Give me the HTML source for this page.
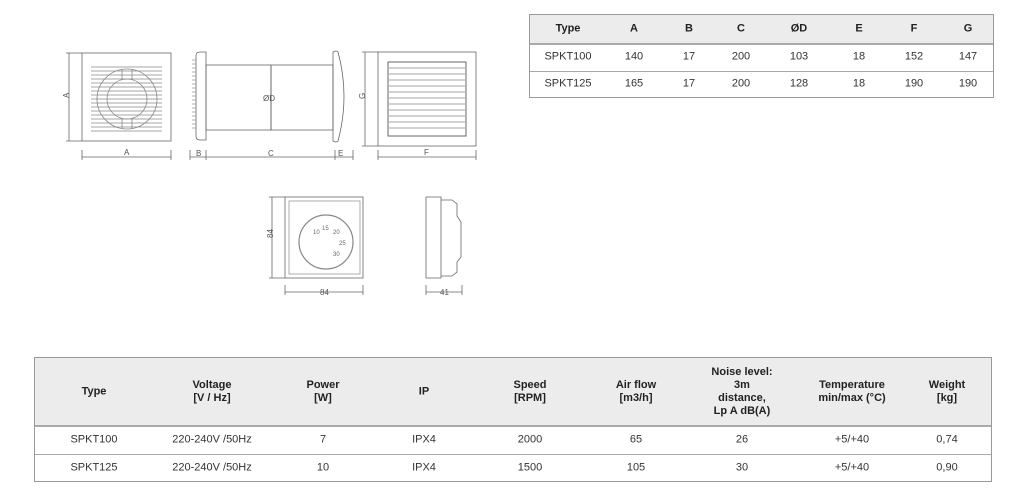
<!DOCTYPE html>
<html><head><meta charset="utf-8"><style>
body{margin:0;width:1024px;height:496px;background:#fff;position:relative;overflow:hidden;font-family:"Liberation Sans",sans-serif;color:#333}
.t{position:absolute;border:1px solid #999;box-sizing:border-box}
.h{position:absolute;left:0;right:0;top:0;background:#ececec;border-bottom:2px solid #aaa}
.l{position:absolute;left:0;right:0;height:1px;background:#aaa}
.c{position:absolute;transform:translate(-50%,-50%);text-align:center;font-size:11px;white-space:nowrap;line-height:13px}
.b{font-weight:bold;color:#222}
svg{position:absolute;left:0;top:0}
</style></head><body>
<svg width="1024" height="496" fill="none" stroke="#666" stroke-width="0.8" font-family="Liberation Sans" font-size="8">
<!-- front view -->
<rect x="82" y="53" width="89" height="88"/>
<g stroke="#888">
<path d="M91 67H162M91 71H162M91 75H162M91 79H162M91 83H162M91 87H162M91 91H162M91 95H162M91 99H162M91 103H162M91 107H162M91 111H162M91 115H162M91 119H162M91 123H162M91 127H162M91 131H162"/>
<circle cx="127" cy="99" r="30"/><circle cx="127" cy="99" r="20"/>
<path d="M122 69V79M132 69V79M122 119V129M132 119V129"/>
</g>
<path d="M69 53V141M66 53H82M66 141H82M82 157H171M82 150V160M171 150V160"/>
<text x="66" y="101" fill="#555" stroke="none" transform="rotate(-90 66 98)">A</text>
<text x="124" y="155" fill="#555" stroke="none">A</text>
<!-- side view -->
<path d="M200 52Q196 52 196 56V136Q196 140 200 140H206V52Z"/>
<path d="M196 60H192M196 64H192M196 68H192M196 72H192M196 76H192M196 80H192M196 84H192M196 88H192M196 92H192M196 96H192M196 100H192M196 104H192M196 108H192M196 112H192M196 116H192M196 120H192M196 124H192M196 128H192" stroke="#999"/>
<rect x="206" y="65" width="127" height="65"/>
<path d="M333 52Q336 50 338 52Q350 96 338 141Q336 143 333 141Z"/>
<path d="M271 65V130" stroke-width="1"/>
<text x="263" y="101" fill="#555" stroke="none">ØD</text>
<path d="M190 157H353M190 150V160M206 150V160M335 150V160M353 150V160"/>
<text x="196" y="156" fill="#555" stroke="none">B</text>
<text x="268" y="156" fill="#555" stroke="none">C</text>
<text x="338" y="156" fill="#555" stroke="none">E</text>
<!-- grille view -->
<rect x="378" y="52" width="98" height="94"/>
<rect x="388" y="62" width="78" height="74" stroke-width="1"/>
<path d="M389 68H465M389 74H465M389 80H465M389 86H465M389 92H465M389 98H465M389 104H465M389 110H465M389 116H465M389 122H465M389 128H465" stroke="#888"/>
<path d="M365 52V146M362 52H378M362 146H378M378 157H476M378 150V160M476 150V160"/>
<text x="362" y="102" fill="#555" stroke="none" transform="rotate(-90 362 99)">G</text>
<text x="424" y="155" fill="#555" stroke="none">F</text>
<!-- thermostat -->
<rect x="285" y="197" width="78" height="81"/>
<rect x="289" y="201" width="71" height="73" stroke="#999"/>
<circle cx="326" cy="242" r="27" stroke="#888" stroke-width="1.2"/>
<g fill="#666" stroke="none" font-size="6"><text x="313" y="234">10</text><text x="322" y="230">15</text><text x="333" y="234">20</text><text x="339" y="245">25</text><text x="333" y="256">30</text></g>
<path d="M272 197V278M269 197H285M269 278H285M285 292H363M285 285V295M363 285V295"/>
<text x="270" y="241" fill="#555" stroke="none" transform="rotate(-90 270 238)">84</text>
<text x="320" y="295" fill="#555" stroke="none">84</text>
<!-- thermostat side -->
<path d="M426 197H441V278H426Z"/>
<path d="M441 200H452L457 204V216L461 222V257L457 262V272L452 276H441"/>
<path d="M426 292H462M426 285V295M462 285V295"/>
<text x="440" y="295" fill="#555" stroke="none">41</text>
</svg>

<div class="t" style="left:529px;top:14px;width:465px;height:84px">
<div class="h" style="height:28px"></div><div class="l" style="top:56px"></div>
<div class="c b" style="left:38px;top:14px">Type</div><div class="c b" style="left:104px;top:14px">A</div><div class="c b" style="left:159px;top:14px">B</div><div class="c b" style="left:211px;top:14px">C</div><div class="c b" style="left:269px;top:14px">ØD</div><div class="c b" style="left:329px;top:14px">E</div><div class="c b" style="left:384px;top:14px">F</div><div class="c b" style="left:438px;top:14px">G</div>
<div class="c" style="left:38px;top:42px">SPKT100</div><div class="c" style="left:104px;top:42px">140</div><div class="c" style="left:159px;top:42px">17</div><div class="c" style="left:211px;top:42px">200</div><div class="c" style="left:269px;top:42px">103</div><div class="c" style="left:329px;top:42px">18</div><div class="c" style="left:384px;top:42px">152</div><div class="c" style="left:438px;top:42px">147</div>
<div class="c" style="left:38px;top:69px">SPKT125</div><div class="c" style="left:104px;top:69px">165</div><div class="c" style="left:159px;top:69px">17</div><div class="c" style="left:211px;top:69px">200</div><div class="c" style="left:269px;top:69px">128</div><div class="c" style="left:329px;top:69px">18</div><div class="c" style="left:384px;top:69px">190</div><div class="c" style="left:438px;top:69px">190</div>
</div>

<div class="t" style="left:34px;top:357px;width:958px;height:125px">
<div class="h" style="height:67px"></div><div class="l" style="top:96px"></div>
<div class="c b" style="left:59px;top:34px">Type</div><div class="c b" style="left:177px;top:34px">Voltage<br>[V / Hz]</div><div class="c b" style="left:288px;top:34px">Power<br>[W]</div><div class="c b" style="left:389px;top:34px">IP</div><div class="c b" style="left:495px;top:34px">Speed<br>[RPM]</div><div class="c b" style="left:601px;top:34px">Air flow<br>[m3/h]</div><div class="c b" style="left:707px;top:34px">Noise level:<br>3m<br>distance,<br>Lp A dB(A)</div><div class="c b" style="left:817px;top:34px">Temperature<br>min/max (°C)</div><div class="c b" style="left:912px;top:34px">Weight<br>[kg]</div>
<div class="c" style="left:59px;top:82px">SPKT100</div><div class="c" style="left:177px;top:82px">220-240V /50Hz</div><div class="c" style="left:288px;top:82px">7</div><div class="c" style="left:389px;top:82px">IPX4</div><div class="c" style="left:495px;top:82px">2000</div><div class="c" style="left:601px;top:82px">65</div><div class="c" style="left:707px;top:82px">26</div><div class="c" style="left:817px;top:82px">+5/+40</div><div class="c" style="left:912px;top:82px">0,74</div>
<div class="c" style="left:59px;top:110px">SPKT125</div><div class="c" style="left:177px;top:110px">220-240V /50Hz</div><div class="c" style="left:288px;top:110px">10</div><div class="c" style="left:389px;top:110px">IPX4</div><div class="c" style="left:495px;top:110px">1500</div><div class="c" style="left:601px;top:110px">105</div><div class="c" style="left:707px;top:110px">30</div><div class="c" style="left:817px;top:110px">+5/+40</div><div class="c" style="left:912px;top:110px">0,90</div>
</div>
</body></html>
